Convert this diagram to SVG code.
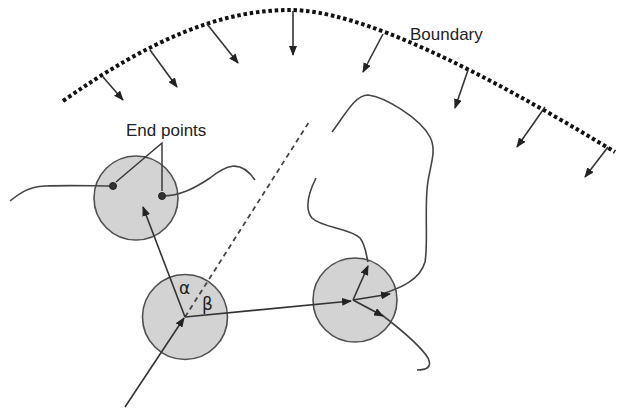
<svg xmlns="http://www.w3.org/2000/svg" width="617" height="410" viewBox="0 0 617 410">
<style>
.bg{fill:#ffffff}
.node circle.body{fill:#d3d3d3;stroke:#505050;stroke-width:1.6}
.arr{fill:none;stroke:#333;stroke-width:1.6;marker-end:url(#ah)}
.ln{fill:none;stroke:#333;stroke-width:1.4}
.curve{fill:none;stroke:#444;stroke-width:1.6}
.dash{fill:none;stroke:#444;stroke-width:1.8;stroke-dasharray:5 4}
.bound{fill:none;stroke:#111;stroke-width:4;stroke-dasharray:3.5 2.8}
.lbl{font-family:"Liberation Sans",Arial,sans-serif;font-size:17px;fill:#222}
.greek{font-family:"DejaVu Sans","Liberation Sans",sans-serif;font-size:17px;fill:#222}
.dot{fill:#333;stroke:#222;stroke-width:1}
</style>
<defs>
<marker id="ah" markerUnits="userSpaceOnUse" markerWidth="10" markerHeight="8" refX="9" refY="4" orient="auto">
<path d="M0,0 L10,4 L0,8 Z" fill="#222"/>
</marker>
</defs>
<rect class="bg" width="617" height="410"/>
<g id="boundary">
<path class="bound" d="M63,101 C150,40 220,10 290,10 C360,10 480,70 615,152"/>
<text class="lbl" x="410" y="40">Boundary</text>
</g>
<g id="connectors">
<path class="arr" d="M103,77 L123,100"/>
<path class="arr" d="M150,50 L177,87"/>
<path class="arr" d="M207,24 L238,63"/>
<path class="arr" d="M293,11 L293,55"/>
<path class="arr" d="M383,34 L363,72"/>
<path class="arr" d="M468,70 L455,108"/>
<path class="arr" d="M545,107 L517,147"/>
<path class="arr" d="M608,147 L585,177"/>
</g>
<g id="node-1" class="node">
<circle class="body" cx="136" cy="198" r="42"/>
</g>
<g id="node-2" class="node">
<circle class="body" cx="185" cy="317" r="42.5"/>
</g>
<g id="node-3" class="node">
<circle class="body" cx="355" cy="300" r="42"/>
</g>
<g id="paths">
<path class="curve" d="M10,201 C20,193 28,187 45,186 C70,185 95,186 113,186"/>
<path class="curve" d="M162,196 C180,196 195,188 210,178 C225,166 240,158 255,180"/>
<path class="curve" d="M316,178 C310,190 303,207 312,218 C322,228 350,228 360,238 C366,246 366,255 368,262"/>
<path class="curve" d="M332,132 C345,115 355,95 368,95 C385,97 420,118 430,137 C438,152 428,170 427,190 C425,215 428,245 425,262 C420,280 400,288 385,293"/>
<path class="curve" d="M382,315 C395,325 420,345 428,358 C433,368 425,370 417,370"/>
</g>
<g id="endpoints">
<circle class="dot" cx="113" cy="186" r="3.5"/>
<circle class="dot" cx="162" cy="196" r="3.5"/>
<path class="ln" d="M116,182 L162,143 L162,191"/>
<text class="lbl" x="126" y="136">End points</text>
</g>
<g id="motion">
<path class="dash" d="M185,317 L309,122"/>
<path class="arr" d="M125,407 L184,318"/>
<path class="arr" d="M185,317 L143,207"/>
<path class="arr" d="M185,317 L351,301"/>
<path class="arr" d="M353,300 L368,266"/>
<path class="arr" d="M353,300 L390,294"/>
<path class="arr" d="M353,300 L383,316"/>
<text class="greek" x="179" y="294">α</text>
<text class="greek" x="202" y="310">β</text>
</g>
</svg>
